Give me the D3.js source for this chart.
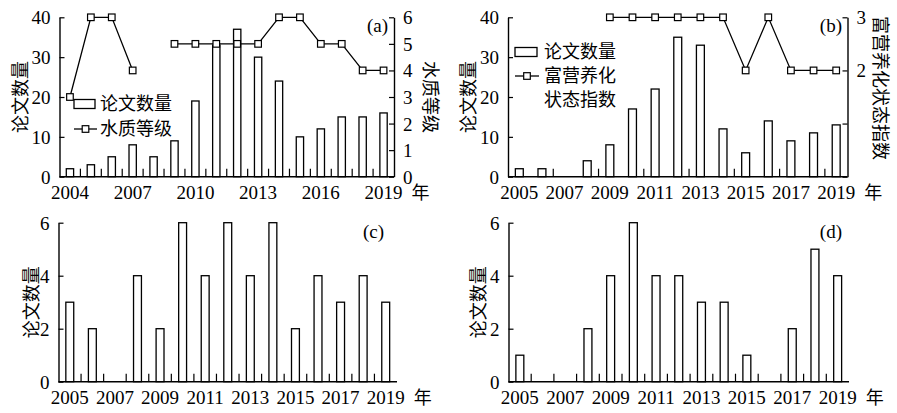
<!DOCTYPE html>
<html><head><meta charset="utf-8">
<script src="https://cdn.jsdelivr.net/npm/d3@7"></script>
<style>
body{margin:0;background:#fff;}
text{fill:#000;}
.num{font-family:"Liberation Serif","Times New Roman",serif;}
.cjk{font-family:"Noto Sans CJK SC","Noto Sans CJK JP",sans-serif;}
</style></head>
<body>
<svg id="c" width="897" height="413"></svg>
<script>
// ---- data ----
const yearsA = d3.range(2004, 2020);
const papersA = [2,3,5,8,5,9,19,33,37,30,24,10,12,15,15,16];
const waterGrade = [3,6,6,4,null,5,5,5,5,5,6,6,5,5,4,4];
const tickYearsA = [2004,2007,2010,2013,2016,2019];

const yearsB = d3.range(2005, 2020);
const papersB = [2,2,0,4,8,17,22,35,33,12,6,14,9,11,13];
const trophicIndex = [null,null,null,null,3,3,3,3,3,3,2,3,2,2,2];
const tickYearsB = [2005,2007,2009,2011,2013,2015,2017,2019];

const papersC = [3,2,0,4,2,6,4,6,4,6,2,4,3,4,3];
const papersD = [1,0,0,2,4,6,4,4,3,3,1,0,2,5,4];

const svg = d3.select("#c");
const FS = 19, CFS = 18;

// rotated CJK title drawn glyph by glyph (dir -1: reads upward, +1: reads downward)
function rotTitle(g, s, cxp, cyp, dir){
  const ch = Array.from(s), n = ch.length, adv = CFS*1.0;
  ch.forEach((c,i)=>{
    const yy = dir<0 ? cyp + (n/2 - i - 0.5)*adv : cyp + (i - n/2 + 0.5)*adv;
    g.append("text").attr("class","cjk")
      .attr("transform",`translate(${cxp},${yy}) rotate(${dir<0?-90:90})`)
      .attr("text-anchor","middle").attr("dy","0.36em").attr("font-size",CFS).text(c);
  });
}

function panel(o){
  const g = svg.append("g");
  const x = d3.scaleBand().domain(o.years).range([o.x0,o.x1]).paddingInner(0.65).paddingOuter(0.325);
  const y = d3.scaleLinear().domain([0,o.ymax]).range([o.yb,o.yt]);
  const step = x.step(), bw = x.bandwidth();
  const cx = d => x(d)+bw/2;
  // bars
  g.selectAll("rect.bar").data(o.years.map((yr,i)=>({yr,v:o.bars[i]})).filter(d=>d.v>0))
    .enter().append("rect")
    .attr("x",d=>x(d.yr)).attr("width",bw)
    .attr("y",d=>y(d.v)).attr("height",d=>y(0)-y(d.v))
    .attr("fill","#fff").attr("stroke","#000").attr("stroke-width",1.3);
  // x boundary ticks (inward)
  const bounds = o.years.slice(1).map((yr,i)=>({yr,i:i+1})).filter(d=>d.i % o.tickEvery===0);
  g.selectAll("line.xt").data(bounds).enter().append("line")
    .attr("x1",d=>cx(d.yr)-step/2).attr("x2",d=>cx(d.yr)-step/2)
    .attr("y1",y(0)).attr("y2",y(0)-8).attr("stroke","#000").attr("stroke-width",1.2);
  // x axis line
  g.append("line").attr("x1",o.x0).attr("x2",o.x1).attr("y1",y(0)).attr("y2",y(0))
    .attr("stroke","#000").attr("stroke-width",1.4);
  // x labels
  g.selectAll("text.xl").data(o.tickYears).enter().append("text").attr("class","num")
    .attr("x",d=>cx(d)).attr("y",y(0)+22).attr("text-anchor","middle")
    .attr("font-size",FS).text(d=>d);
  g.append("text").attr("class","cjk").attr("x",cx(o.tickYears[o.tickYears.length-1])+28).attr("y",y(0)+22)
    .attr("font-size",CFS).text("年");
  // left axis
  const la = d3.axisLeft(y).tickValues(o.yticks).tickSize(-5).tickPadding(9).tickSizeOuter(0)
    .tickFormat(d3.format("d"));
  const lg = g.append("g").attr("transform",`translate(${o.x0},0)`).call(la);
  lg.attr("font-family",null);
  lg.select(".domain").attr("stroke-width",1.4);
  lg.selectAll(".tick line").attr("stroke-width",1.2);
  lg.selectAll("text").attr("class","num").attr("font-size",FS).attr("dy","0.34em");
  // left title
  rotTitle(g, "论文数量", o.ltx, (o.yb+o.yt)/2, -1);
  // panel label
  g.append("text").attr("class","num").attr("x",o.labX).attr("y",o.yt+15).attr("text-anchor","end")
    .attr("font-size",FS).text(o.label);
  if(o.line){
    const yr = d3.scaleLinear().domain([0,o.rmax]).range([o.yb,o.yt]);
    const ra = d3.axisRight(yr).tickValues(o.rticks).tickSize(-5).tickPadding(9).tickSizeOuter(0)
      .tickFormat(d=>o.rlabels.includes(d)?d3.format("d")(d):"");
    const rg = g.append("g").attr("transform",`translate(${o.x1},0)`).call(ra);
    rg.attr("font-family",null);
    rg.select(".domain").attr("stroke-width",1.4);
    rg.selectAll(".tick line").attr("stroke-width",1.2);
    rg.selectAll("text").attr("class","num").attr("font-size",FS).attr("dy","0.34em");
    const pts = o.years.map((yr,i)=>({yr,v:o.line[i]}));
    const ln = d3.line().defined(d=>d.v!=null).x(d=>cx(d.yr)).y(d=>yr(d.v));
    g.append("path").attr("d",ln(pts)).attr("fill","none").attr("stroke","#000").attr("stroke-width",1.3);
    g.selectAll("rect.mk").data(pts.filter(d=>d.v!=null)).enter().append("rect")
      .attr("x",d=>cx(d.yr)-3.3).attr("y",d=>yr(d.v)-3.3).attr("width",6.6).attr("height",6.6)
      .attr("fill","#fff").attr("stroke","#000").attr("stroke-width",1.2);
    // right title
    rotTitle(g, o.rtitle, o.rtx, o.rty, 1);
    // legend
    const L = o.leg;
    g.append("rect").attr("x",L.x).attr("y",L.y1-4.5).attr("width",L.w).attr("height",9)
      .attr("fill","#fff").attr("stroke","#000").attr("stroke-width",1.3);
    g.append("text").attr("class","cjk").attr("x",L.tx).attr("y",L.y1).attr("dy","0.35em").attr("font-size",CFS).text("论文数量");
    g.append("line").attr("x1",L.x).attr("x2",L.x+L.w+2).attr("y1",L.y2).attr("y2",L.y2)
      .attr("stroke","#000").attr("stroke-width",1.3);
    g.append("rect").attr("x",L.x+L.w/2+1-3.3).attr("y",L.y2-3.3).attr("width",6.6).attr("height",6.6)
      .attr("fill","#fff").attr("stroke","#000").attr("stroke-width",1.2);
    L.lines.forEach((t,i)=>{
      g.append("text").attr("class","cjk").attr("x",L.tx).attr("y",L.y2+i*24).attr("dy","0.35em").attr("font-size",CFS).text(t);
    });
  }
}

panel({years:yearsA,bars:papersA,x0:59.5,x1:394,yt:17.3,yb:176.7,ymax:40,yticks:[0,10,20,30,40],
  tickYears:tickYearsA,tickEvery:1,ltx:21,label:"(a)",labX:388,
  line:waterGrade,rmax:6,rticks:[0,1,2,3,4,5,6],rlabels:[0,1,2,3,4,5,6],rtitle:"水质等级",rtx:430,rty:97,
  leg:{x:74,w:21,tx:100,y1:104,y2:129,lines:["水质等级"]}});

panel({years:yearsB,bars:papersB,x0:508,x1:847.5,yt:17.3,yb:176.7,ymax:40,yticks:[0,10,20,30,40],
  tickYears:tickYearsB,tickEvery:2,ltx:469,label:"(b)",labX:842,
  line:trophicIndex,rmax:3,rticks:[0,1,2,3],rlabels:[2,3],rtitle:"富营养化状态指数",rtx:880,rty:88,
  leg:{x:515,w:22,tx:544,y1:52,y2:76,lines:["富营养化","状态指数"]}});

panel({years:yearsB,bars:papersC,x0:58.5,x1:397,yt:222.7,yb:381.7,ymax:6,yticks:[0,2,4,6],
  tickYears:tickYearsB,tickEvery:1,ltx:32,label:"(c)",labX:384});

panel({years:yearsB,bars:papersD,x0:508.5,x1:849,yt:222.7,yb:381.7,ymax:6,yticks:[0,2,4,6],
  tickYears:tickYearsB,tickEvery:1,ltx:479,label:"(d)",labX:842});
</script>
</body></html>
